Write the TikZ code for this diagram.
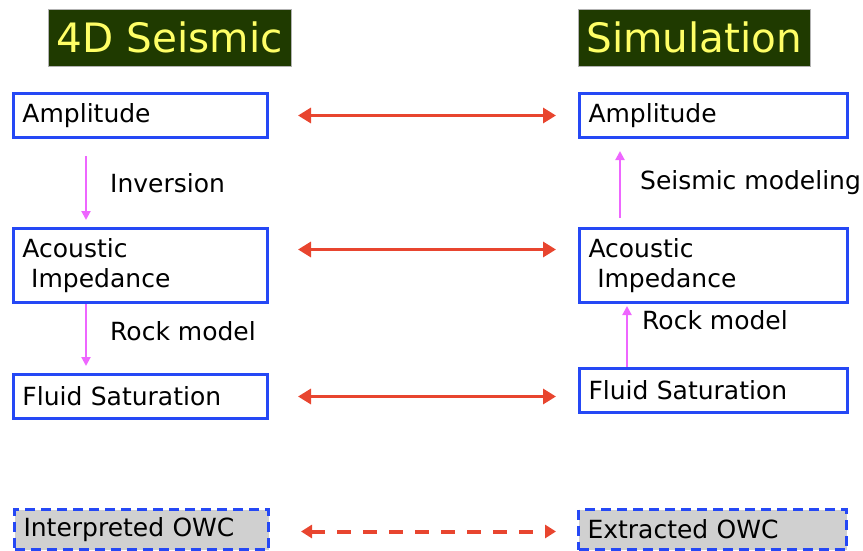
\documentclass[tikz,border=0pt]{standalone}
\usepackage{fontspec}
\setmainfont{DejaVu Sans}
\usetikzlibrary{arrows.meta,calc}
\definecolor{boxblue}{HTML}{2548F5}
\definecolor{titlegreen}{HTML}{1F3A00}
\definecolor{titleyellow}{HTML}{FFFF66}
\definecolor{linkred}{HTML}{E8452F}
\definecolor{flowpink}{HTML}{EE66FF}
\definecolor{owcgray}{HTML}{D0D0D0}
\tikzset{
  titlebox/.style={draw=gray!60, line width=0.6pt, fill=titlegreen, text=titleyellow,
    font=\fontsize{40.5}{44}\selectfont, inner sep=0pt, anchor=north west},
  databox/.style={draw=boxblue, line width=3pt, fill=white, anchor=north west,
    minimum width=254pt, inner sep=0pt, align=left,
    font=\fontsize{25}{30}\selectfont},
  owcbox/.style={draw=boxblue, line width=3pt, dash pattern=on 10pt off 6pt,
    fill=owcgray, anchor=north west, minimum width=254pt, minimum height=40pt,
    inner sep=0pt, font=\fontsize{25}{30}\selectfont},
  linkarrow/.style={draw=linkred, line width=3.5pt,
    {Triangle[length=13pt,width=15pt]}-{Triangle[length=13pt,width=15pt]}},
  owcarrow/.style={draw=linkred, line width=4pt, dash pattern=on 14pt off 12pt,
    {Triangle[length=11pt,width=13pt]}-{Triangle[length=11pt,width=13pt]}},
  flowarrow/.style={draw=flowpink, line width=2pt,
    -{Triangle[length=9pt,width=9pt]}},
  steplabel/.style={anchor=west, inner sep=0pt, font=\fontsize{25}{30}\selectfont}
}
\begin{document}
\begin{tikzpicture}[x=1pt, y=-1pt]
\useasboundingbox (0,0) rectangle (863,551);

% column titles
\node[titlebox, minimum width=243pt, minimum height=57pt] (tseis) at (48,9) {4D Seismic};
\node[titlebox, minimum width=232pt, minimum height=57pt] (tsim) at (578,9) {Simulation};

% 4D seismic column
\node[databox, minimum height=44pt, text width=236pt] (lamp) at (12,92) {Amplitude};
\node[databox, minimum height=74pt, text width=236pt] (lac) at (12,227) {Acoustic\\\hspace{0.35em}Impedance};
\node[databox, minimum height=44pt, text width=236pt] (lfl) at (12,373) {Fluid Saturation};
\node[owcbox, text width=236pt, align=left] (lowc) at (13,508) {Interpreted OWC};

% simulation column
\node[databox, minimum width=268pt, minimum height=44pt, text width=250pt] (ramp) at (578,92) {Amplitude};
\node[databox, minimum width=268pt, minimum height=74pt, text width=250pt] (rac) at (578,227) {Acoustic\\\hspace{0.35em}Impedance};
\node[databox, minimum width=268pt, minimum height=44pt, text width=250pt] (rfl) at (578,367) {Fluid Saturation};
\node[owcbox, minimum width=268pt, text width=250pt, align=left] (rowc) at (577,508) {Extracted OWC};

% comparison links
\draw[linkarrow, shorten <=29pt, shorten >=22pt] (lamp.east) -- (ramp.west);
\draw[linkarrow, shorten <=29pt, shorten >=22pt] ([yshift=16pt]lac.east) -- ([yshift=16pt]rac.west);
\draw[linkarrow, shorten <=29pt, shorten >=22pt] (lfl.east) -- (lfl.east -| rfl.west);
\draw[owcarrow, shorten <=31pt, shorten >=21pt] ([yshift=-2pt]lowc.east) -- ([yshift=-2pt]rowc.west);

% workflow steps
\coordinate (lx) at (86,0);
\coordinate (rxa) at (620,0);
\coordinate (rxb) at (627,0);
\draw[flowarrow, shorten <=17pt, shorten >=7pt] (lamp.south -| lx) -- (lac.north -| lx);
\draw[flowarrow, shorten >=7pt] (lac.south -| lx) -- (lfl.north -| lx);
\draw[flowarrow, shorten <=9pt, shorten >=12pt] (rac.north -| rxa) -- (ramp.south -| rxa);
\draw[flowarrow, shorten >=2pt] (rfl.north -| rxb) -- (rac.south -| rxb);

\node[steplabel] (inv) at (110,183) {Inversion};
\node[steplabel] (rml) at (110,331) {Rock model};
\node[steplabel] (smod) at (640,183) {Seismic modeling};
\node[steplabel] (rmr) at (642,320) {Rock model};
\end{tikzpicture}
\end{document}
